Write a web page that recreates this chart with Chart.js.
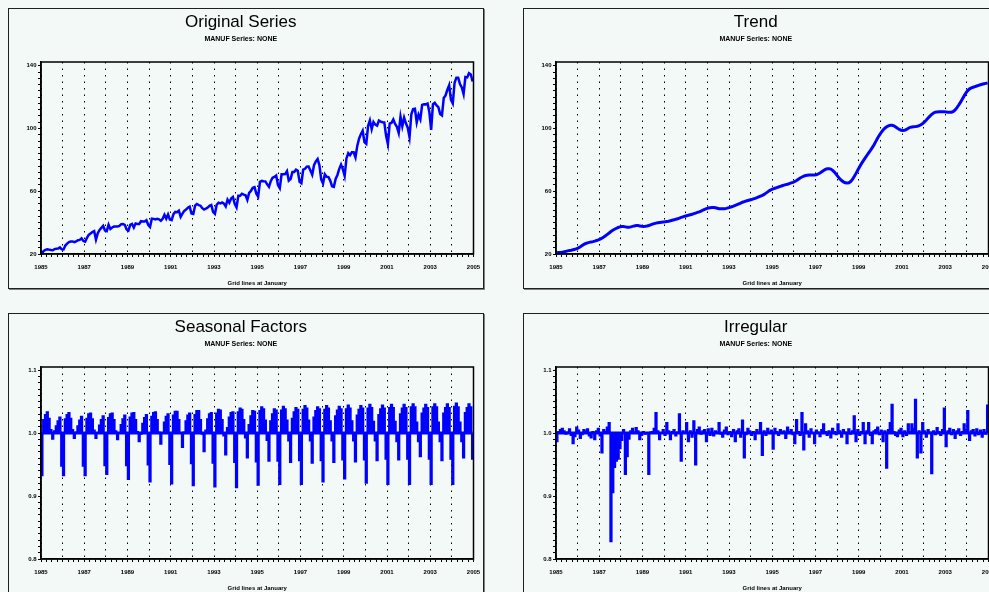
<!DOCTYPE html>
<html>
<head>
<meta charset="utf-8">
<title>MANUF decomposition</title>
<script src="https://cdn.jsdelivr.net/npm/chart.js@4.4.1/dist/chart.umd.min.js"></script>
<style>
  html, body { margin: 0; padding: 0; width: 989px; height: 592px; overflow: hidden; background: #f3f9f6; }
  .frame { position: absolute; width: 476px; height: 281px; box-sizing: border-box;
           border: 1px solid #202020; box-shadow: 1px 1px 0 #808080; background: #f3f9f6; }
  canvas { position: absolute; }
</style>
</head>
<body>
<div class="frame" style="left:8px;top:8px"></div>
<div class="frame" style="left:523px;top:8px"></div>
<div class="frame" style="left:8px;top:313px"></div>
<div class="frame" style="left:523px;top:313px"></div>
<canvas id="cOriginal"  width="476" height="281" style="left:8px;top:8px"></canvas>
<canvas id="cTrend"     width="476" height="281" style="left:523px;top:8px"></canvas>
<canvas id="cSeasonal"  width="476" height="281" style="left:8px;top:313px"></canvas>
<canvas id="cIrregular" width="476" height="281" style="left:523px;top:313px"></canvas>
<script>
// Monthly series, January 1985 - December 2004
const years = [1985, 1986, 1987, 1988, 1989, 1990, 1991, 1992, 1993, 1994,
               1995, 1996, 1997, 1998, 1999, 2000, 2001, 2002, 2003, 2004];

// Tick labels
const yearLabels   = [1985, 1987, 1989, 1991, 1993, 1995, 1997, 1999, 2001, 2003, 2005];
const levelTicks   = [20, 60, 100, 140];
const factorTicks  = [0.8, 0.9, 1.0, 1.1];
const factorBase   = 1.0;

const original = [
  20.2, 22.0, 22.6, 23.0, 22.8, 22.5, 22.4, 23.1, 23.3, 23.5, 24.2, 23.0,
  22.9, 25.4, 26.6, 27.6, 27.9, 28.0, 27.5, 28.0, 28.8, 29.0, 30.0, 28.3,
  27.9, 30.3, 32.2, 33.1, 34.0, 34.6, 29.2, 33.2, 35.4, 36.7, 38.0, 35.0,
  34.6, 38.7, 36.0, 36.9, 37.5, 37.6, 37.5, 37.9, 39.0, 39.1, 38.6, 35.6,
  34.9, 38.6, 39.2, 36.9, 39.5, 39.2, 39.2, 40.9, 40.7, 40.7, 41.5, 38.6,
  37.2, 42.5, 42.4, 42.1, 42.5, 42.1, 41.2, 42.5, 45.0, 42.5, 45.2, 42.0,
  41.6, 45.4, 46.8, 46.6, 47.6, 43.7, 45.7, 47.5, 48.3, 49.5, 50.2, 45.8,
  45.5, 50.8, 51.9, 51.2, 50.8, 49.2, 48.4, 48.9, 49.6, 50.7, 51.2, 46.8,
  45.6, 51.4, 52.7, 52.2, 52.8, 52.1, 50.3, 54.6, 52.7, 55.4, 56.4, 52.0,
  49.7, 57.1, 57.1, 58.4, 57.8, 57.4, 54.5, 59.0, 60.2, 62.2, 62.6, 58.4,
  56.5, 66.0, 66.6, 66.4, 66.3, 64.4, 62.8, 66.4, 68.6, 69.1, 70.0, 64.0,
  62.0, 70.8, 70.8, 70.9, 72.8, 66.8, 67.8, 72.2, 72.2, 73.7, 73.0, 66.0,
  65.1, 73.8, 74.3, 75.7, 75.8, 73.2, 70.5, 76.6, 79.0, 80.5, 76.5, 67.5,
  64.9, 70.8, 69.3, 69.0, 66.8, 63.2, 62.8, 67.9, 70.4, 74.3, 77.0, 74.0,
  69.8, 80.9, 84.3, 83.0, 84.8, 84.8, 81.6, 88.9, 93.5, 96.4, 98.6, 91.3,
  90.2, 101.6, 105.2, 99.6, 104.2, 102.5, 101.8, 105.1, 104.4, 104.0, 103.9, 95.3,
  90.0, 103.2, 103.6, 105.8, 102.9, 101.1, 97.2, 107.5, 101.4, 106.9, 103.3, 100.5,
  94.5, 109.1, 112.4, 112.6, 103.9, 108.8, 105.9, 115.1, 115.5, 115.4, 115.9, 110.5,
  99.1, 115.5, 116.4, 114.7, 113.6, 109.3, 108.4, 119.5, 121.1, 124.7, 127.6, 118.3,
  116.0, 129.2, 132.4, 132.4, 128.3, 126.2, 122.0, 132.8, 132.6, 135.3, 134.5, 130.0
];

const trend = [
  20.8, 20.9, 21.0, 21.2, 21.4, 21.7, 22.0, 22.2, 22.4, 22.7, 23.0, 23.4,
  23.9, 24.6, 25.4, 26.1, 26.7, 27.1, 27.4, 27.7, 27.9, 28.2, 28.6, 29.0,
  29.5, 30.1, 30.8, 31.6, 32.5, 33.4, 34.3, 35.1, 35.8, 36.4, 36.9, 37.3,
  37.5, 37.5, 37.3, 37.1, 37.1, 37.3, 37.6, 37.9, 38.1, 38.1, 37.9, 37.7,
  37.6, 37.7, 37.9, 38.2, 38.6, 39.0, 39.4, 39.7, 39.9, 40.1, 40.3, 40.4,
  40.5, 40.7, 40.9, 41.2, 41.5, 41.8, 42.2, 42.5, 42.9, 43.3, 43.7, 44.1,
  44.4, 44.7, 45.0, 45.3, 45.7, 46.1, 46.5, 46.9, 47.4, 47.9, 48.4, 48.9,
  49.3, 49.5, 49.7, 49.7, 49.5, 49.2, 48.9, 48.8, 48.8, 48.9, 49.1, 49.4,
  49.7, 50.1, 50.5, 51.0, 51.5, 52.0, 52.5, 53.0, 53.4, 53.8, 54.1, 54.4,
  54.7, 55.1, 55.5, 55.9, 56.4, 56.9, 57.4, 58.0, 58.8, 59.6, 60.4, 61.0,
  61.5, 61.9, 62.3, 62.7, 63.1, 63.5, 63.9, 64.2, 64.5, 64.9, 65.3, 65.7,
  66.2, 66.9, 67.7, 68.5, 69.1, 69.6, 70.0, 70.2, 70.3, 70.3, 70.3, 70.3,
  70.5, 71.0, 71.6, 72.4, 73.2, 73.9, 74.3, 74.4, 74.1, 73.3, 72.2, 70.8,
  69.3, 67.9, 66.8, 66.0, 65.4, 65.2, 65.4, 66.2, 67.6, 69.4, 71.4, 73.5,
  75.6, 77.6, 79.4, 81.1, 82.8, 84.5, 86.1, 87.8, 89.7, 91.8, 93.9, 95.8,
  97.5, 99.0, 100.2, 101.1, 101.7, 102.1, 102.1, 101.7, 100.9, 100.1, 99.4, 98.9,
  98.7, 98.8, 99.4, 100.2, 100.7, 101.0, 101.1, 101.2, 101.4, 101.8, 102.4, 103.2,
  104.2, 105.4, 106.7, 107.9, 109.0, 109.9, 110.4, 110.6, 110.7, 110.7, 110.7, 110.7,
  110.6, 110.4, 110.3, 110.4, 110.9, 111.9, 113.3, 115.0, 116.8, 118.8, 120.8, 122.7,
  124.2, 125.3, 125.9, 126.3, 126.7, 127.1, 127.5, 127.9, 128.2, 128.5, 128.8, 129.1
];

const seasonal = [
  0.932, 1.022, 1.030, 1.034, 1.024, 1.006, 0.990, 1.004, 1.012, 1.020, 1.026, 0.947,
  0.932, 1.023, 1.030, 1.033, 1.024, 1.006, 0.991, 1.002, 1.012, 1.021, 1.027, 0.947,
  0.932, 1.024, 1.031, 1.032, 1.023, 1.005, 0.991, 1.000, 1.013, 1.022, 1.028, 0.948,
  0.934, 1.025, 1.031, 1.032, 1.022, 1.004, 0.989, 0.999, 1.014, 1.023, 1.029, 0.948,
  0.926, 1.026, 1.032, 1.033, 1.022, 1.003, 0.986, 0.998, 1.016, 1.025, 1.030, 0.949,
  0.922, 1.027, 1.033, 1.034, 1.022, 1.002, 0.982, 0.999, 1.018, 1.027, 1.031, 0.950,
  0.919, 1.029, 1.035, 1.035, 1.022, 1.000, 0.977, 1.002, 1.020, 1.029, 1.032, 0.951,
  0.916, 1.030, 1.036, 1.036, 1.022, 0.998, 0.970, 1.005, 1.023, 1.031, 1.033, 0.952,
  0.914, 1.032, 1.038, 1.037, 1.022, 0.995, 0.965, 1.009, 1.026, 1.033, 1.034, 0.953,
  0.913, 1.034, 1.040, 1.038, 1.022, 0.992, 0.960, 1.014, 1.028, 1.036, 1.035, 0.954,
  0.917, 1.036, 1.042, 1.039, 1.021, 0.988, 0.955, 1.020, 1.031, 1.039, 1.037, 0.955,
  0.918, 1.037, 1.043, 1.039, 1.021, 0.987, 0.953, 1.024, 1.034, 1.041, 1.038, 0.956,
  0.918, 1.038, 1.044, 1.040, 1.021, 0.987, 0.952, 1.026, 1.036, 1.042, 1.039, 0.956,
  0.922, 1.038, 1.044, 1.040, 1.020, 0.987, 0.953, 1.028, 1.037, 1.043, 1.039, 0.957,
  0.927, 1.039, 1.045, 1.040, 1.020, 0.987, 0.954, 1.029, 1.038, 1.044, 1.040, 0.957,
  0.920, 1.040, 1.046, 1.041, 1.019, 0.987, 0.956, 1.030, 1.039, 1.045, 1.040, 0.958,
  0.918, 1.041, 1.046, 1.041, 1.019, 0.986, 0.957, 1.031, 1.040, 1.046, 1.041, 0.958,
  0.918, 1.042, 1.047, 1.042, 1.018, 0.986, 0.962, 1.032, 1.040, 1.046, 1.041, 0.958,
  0.918, 1.042, 1.047, 1.042, 1.018, 0.986, 0.956, 1.032, 1.041, 1.047, 1.041, 0.958,
  0.918, 1.043, 1.048, 1.042, 1.018, 0.986, 0.960, 1.033, 1.041, 1.047, 1.042, 0.958
];

const irregular = [
  0.986, 1.003, 1.006, 1.008, 1.004, 0.998, 1.002, 1.007, 0.996, 0.983, 0.994, 1.010,
  1.005, 0.991, 0.997, 1.006, 1.004, 1.007, 0.995, 0.992, 1.003, 0.989, 1.004, 1.008,
  0.995, 0.968, 1.006, 1.003, 1.010, 1.017, 0.827, 0.905, 0.945, 0.955, 0.958, 0.975,
  0.988, 1.006, 0.934, 0.962, 0.990, 1.004, 1.008, 1.002, 1.009, 1.004, 0.989, 0.996,
  1.003, 0.998, 1.001, 0.934, 1.002, 1.003, 1.008, 1.033, 1.004, 0.989, 1.000, 1.006,
  0.996, 1.017, 1.004, 0.989, 1.003, 1.006, 0.995, 1.002, 1.031, 0.955, 1.004, 1.002,
  1.017, 0.986, 1.004, 0.993, 1.020, 0.949, 1.006, 1.010, 0.998, 1.004, 1.006, 0.986,
  1.007, 0.996, 1.008, 0.995, 1.004, 1.002, 1.017, 0.998, 0.993, 1.005, 1.010, 0.997,
  1.003, 0.994, 1.006, 0.986, 1.004, 1.007, 0.993, 1.021, 0.960, 0.997, 1.008, 1.004,
  0.996, 1.003, 0.989, 1.006, 1.002, 1.017, 0.964, 1.004, 0.996, 1.008, 1.002, 1.005,
  0.974, 1.008, 1.003, 0.996, 1.006, 1.002, 1.004, 0.991, 1.010, 1.003, 1.006, 0.997,
  0.983, 1.022, 1.003, 0.996, 1.033, 0.973, 1.015, 1.004, 0.993, 1.007, 1.000, 0.983,
  1.005, 1.002, 0.994, 1.006, 1.015, 1.003, 0.996, 1.004, 0.992, 1.008, 1.003, 0.997,
  1.015, 1.004, 0.993, 1.006, 1.002, 0.983, 1.007, 0.998, 1.004, 1.028, 0.986, 1.006,
  0.996, 1.003, 1.017, 0.983, 1.004, 1.017, 0.996, 0.983, 1.004, 1.006, 1.010, 0.997,
  1.005, 0.986, 1.004, 0.944, 1.006, 1.017, 1.046, 1.003, 0.996, 0.994, 1.005, 1.008,
  0.994, 1.004, 0.996, 1.015, 1.003, 1.015, 1.008, 1.054, 0.960, 1.004, 0.968, 1.017,
  1.004, 0.993, 1.006, 1.002, 0.935, 1.004, 0.997, 1.009, 1.003, 0.996, 1.006, 1.040,
  0.978, 1.004, 1.008, 0.997, 1.006, 0.991, 1.004, 1.007, 0.996, 1.003, 1.015, 1.006,
  1.036, 0.988, 1.004, 1.006, 0.995, 1.007, 0.997, 1.005, 0.993, 1.006, 0.998, 1.045
];

// Mid-month positions on a decimal-year axis
const months = years.flatMap(y => Array.from({ length: 12 }, (_, m) => y + (m + 0.5) / 12));
const points = arr => arr.map((v, i) => ({ x: months[i], y: v }));

const BLUE = '#0000ff';
const INK = '#000000';
Chart.defaults.font.family = '"Liberation Sans", Arial, sans-serif';
Chart.defaults.color = INK;

// Closes the plot rectangle (top and right edges)
const plotFrame = {
  id: 'plotFrame',
  afterDraw(chart) {
    const { ctx, chartArea: a } = chart;
    ctx.save();
    ctx.strokeStyle = INK;
    ctx.lineWidth = 1.5;
    ctx.strokeRect(a.left, a.top, a.right - a.left, a.bottom - a.top);
    ctx.restore();
  }
};

function xAxis() {
  const first = yearLabels[0], last = yearLabels[yearLabels.length - 1];
  return {
    type: 'linear', min: first, max: last, offset: false,
    afterBuildTicks(s) {
      const t = [];
      for (let q = first * 4; q <= last * 4; q++) t.push({ value: q / 4 });
      s.ticks = t;
    },
    afterFit(s) { s.height = 35; s.paddingLeft = 0; s.paddingRight = 0; },
    ticks: {
      autoSkip: false, maxRotation: 0, minRotation: 0, padding: 7, color: INK,
      font: { size: 6, weight: 'bold' },
      callback: v => yearLabels.includes(v) ? String(v) : ''
    },
    grid: {
      offset: false, drawOnChartArea: true, drawTicks: true, tickLength: 3, lineWidth: 1,
      color: c => (c.tick && Number.isInteger(c.tick.value)) ? INK : 'rgba(0,0,0,0)',
      tickColor: INK, tickWidth: 1, tickBorderDash: []
    },
    border: { display: true, color: INK, width: 1.5, dash: [1.5, 5] },
    title: {
      display: true, text: 'Grid lines at January', color: INK,
      font: { size: 6, weight: 'bold' }, padding: { top: 0, bottom: 2 }
    }
  };
}

function yAxis(labels, top, step, fmt) {
  return {
    type: 'linear', min: labels[0], max: top,
    afterBuildTicks(s) {
      const t = [];
      const n = Math.round((labels[labels.length - 1] - labels[0]) / step);
      for (let i = 0; i <= n; i++) t.push({ value: +(labels[0] + i * step).toFixed(4) });
      s.ticks = t;
    },
    afterFit(s) { s.width = 33; s.paddingTop = 0; s.paddingBottom = 0; },
    ticks: {
      autoSkip: false, padding: 1.5, color: INK, font: { size: 6, weight: 'bold' },
      callback: v => labels.includes(v) ? fmt(v) : ''
    },
    grid: { drawOnChartArea: false, drawTicks: true, tickLength: 3, color: INK, tickColor: INK, tickWidth: 1 },
    border: { display: true, color: INK, width: 1.5 }
  };
}

function headings(text) {
  return {
    legend: { display: false },
    tooltip: { enabled: false },
    title: {
      display: true, text, color: INK,
      font: { size: 17, weight: 'normal' }, padding: { top: 3.8, bottom: 2.6 }
    },
    subtitle: {
      display: true, text: 'MANUF Series: NONE', color: INK,
      font: { size: 7, weight: 'bold' }, padding: { top: 0, bottom: 18.8 }
    }
  };
}

const common = {
  responsive: false, animation: false, devicePixelRatio: 1,
  layout: { padding: { left: 0, right: 10.5, top: 0, bottom: 0 } }
};

function levelChart(id, text, series, width) {
  return new Chart(document.getElementById(id), {
    type: 'line',
    data: { datasets: [{
      data: points(series), borderColor: BLUE, borderWidth: width,
      pointRadius: 0, tension: 0, fill: false
    }] },
    options: Object.assign({}, common, {
      plugins: headings(text),
      scales: { x: xAxis(), y: yAxis(levelTicks, 142.4, 4, v => String(v)) }
    }),
    plugins: [plotFrame]
  });
}

function factorChart(id, text, series) {
  const span = [{ x: months[0], y: factorBase }, { x: months[months.length - 1], y: factorBase }];
  return new Chart(document.getElementById(id), {
    type: 'bar',
    data: { datasets: [
      { type: 'bar', data: points(series), base: factorBase, backgroundColor: BLUE,
        borderWidth: 0, barThickness: 2.6, order: 2 },
      { type: 'line', data: span, borderColor: BLUE, borderWidth: 3,
        pointRadius: 0, tension: 0, fill: false, order: 1 }
    ] },
    options: Object.assign({}, common, {
      plugins: headings(text),
      scales: { x: xAxis(), y: yAxis(factorTicks, 1.105, 0.01, v => v.toFixed(1)) }
    }),
    plugins: [plotFrame]
  });
}

levelChart('cOriginal', 'Original Series', original, 2.5);
levelChart('cTrend', 'Trend', trend, 3);
factorChart('cSeasonal', 'Seasonal Factors', seasonal);
factorChart('cIrregular', 'Irregular', irregular);
</script>
</body>
</html>
